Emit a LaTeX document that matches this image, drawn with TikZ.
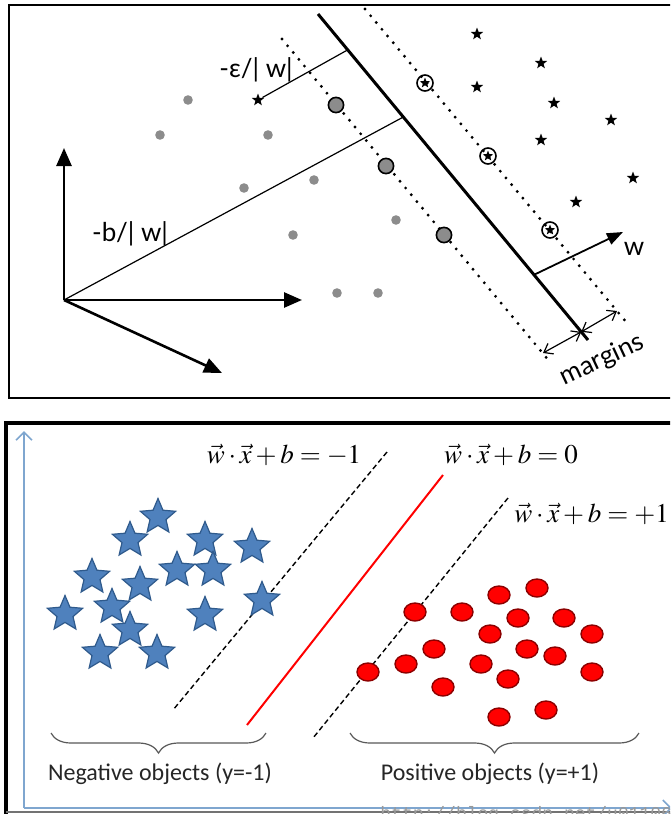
\documentclass[tikz,border=0pt]{standalone}
\usepackage{mathptmx}
\usepackage{fontspec}
\newfontfamily\gillfont{Lato}
\newfontfamily\califont{Carlito}
\newfontfamily\urlfont{Liberation Mono}
\usepackage{xcolor}
\usepackage{tikz}
\usetikzlibrary{shapes.geometric,arrows.meta,positioning,calc,decorations.pathreplacing}

\definecolor{starblue}{HTML}{4F81BD}
\definecolor{starline}{HTML}{2F5A8C}
\definecolor{axisblue}{HTML}{7FA6CF}

\tikzset{
    graydot/.style={circle, fill=black!45, inner sep=0pt, minimum size=4.8pt},
    svdot/.style={circle, draw=black, line width=0.8pt, fill=black!45, inner sep=0pt, minimum size=7.6pt},
    blackstar/.style={star, star points=5, star point ratio=2.4, fill=black, inner sep=0pt, minimum size=6.5pt},
    svstar/.style={circle, draw=black, line width=0.8pt, inner sep=0pt, minimum size=8pt,
        path picture={\node[blackstar, minimum size=5.5pt] at (path picture bounding box.center) {};}},
    bigarrow/.style={line width=1.3pt, -{Triangle[length=9pt,width=7.5pt]}},
    thinline/.style={line width=0.6pt},
    dotline/.style={line width=1.6pt, dash pattern=on 0pt off 4.4pt, line cap=round},
    topfont/.style={font=\gillfont\fontsize{13}{15}\selectfont},
    negstar/.style={star, star points=5, star point ratio=2.2, fill=starblue, draw=starline, line width=0.6pt, inner sep=0pt, minimum size=18.5pt},
    posdot/.style={ellipse, fill=red, draw=red!55!black, line width=0.7pt, inner sep=0pt, minimum width=11pt, minimum height=9pt},
    eqn/.style={font=\fontsize{13.5}{15}\selectfont, inner sep=0pt},
    marginline/.style={dash pattern=on 2.6pt off 1.6pt, line width=0.7pt},
    objbrace/.style={decorate, decoration={brace, amplitude=10pt, mirror}, draw=black!65, line width=0.6pt},
    objlabel/.style={font=\califont\fontsize{12}{14}\selectfont, text=black!85}
}

\begin{document}
\begin{tikzpicture}[x=0.5pt, y=-0.5pt]
    \useasboundingbox (0,0) rectangle (670,814);
    \clip (0,0) rectangle (670,814);
    \fill[white] (0,0) rectangle (670,814);

    % ---------------- upper picture ----------------
    \draw[line width=1pt] (690,5) -- (9,5) -- (9,398) -- (690,398);

    % coordinate axes
    \coordinate (O) at (64,300);
    \coordinate (ax1) at (64,148);
    \coordinate (ax2) at (302,300);
    \coordinate (ax3) at (222,373);
    \draw[bigarrow] (O) -- (ax1);
    \draw[bigarrow] (O) -- (ax2);
    \draw[bigarrow] (O) -- (ax3);

    % hyperplane and the two margin lines
    \coordinate (H1) at (318,14);
    \coordinate (H2) at (588,340);
    \coordinate (L1) at (282,39);
    \coordinate (L2) at (550,362);
    \coordinate (R1) at (365,9);
    \coordinate (R2) at (627,323);
    \draw[line width=1.5pt] (H1) -- (H2);
    \draw[dotline] (L1) -- (L2);
    \draw[dotline] (R1) -- (R2);

    % class -1 : gray dots
    \foreach \x/\y [count=\i] in {188/100, 160/135, 268/135, 244/188, 314/180, 293/235, 396/220, 337/293, 378/293}
        \node[graydot] (g\i) at (\x,\y) {};
    \foreach \x/\y [count=\i] in {336/105, 386/166, 444/235}
        \node[svdot] (sg\i) at (\x,\y) {};

    % class +1 : black stars
    \foreach \x/\y [count=\i] in {477/34, 541/63, 477/87, 554/103, 611/120, 541/140, 633/178, 576/202}
        \node[blackstar] (k\i) at (\x,\y) {};
    \foreach \x/\y [count=\i] in {425/83, 488/156, 550/230}
        \node[svstar] (sk\i) at (\x,\y) {};

    % -b/|w|
    \coordinate (B) at ($(H1)!0.316!(H2)$);
    \draw[thinline] (O) -- (B);
    \node[topfont] (blab) at (130,234) {-b/| w|};

    % -eps/|w|
    \node[blackstar] (estar) at (258,100) {};
    \coordinate (E) at ($(H1)!0.11!(H2)$);
    \draw[thinline] (estar) -- (E);
    \node[topfont] (elab) at (256,70) {-ε/| w|};

    % normal vector w
    \coordinate (W0) at ($(H1)!0.80!(H2)$);
    \coordinate (W1) at (623,232);
    \draw[line width=0.9pt, -{Triangle[length=8pt,width=6pt]}] (W0) -- (W1);
    \node[topfont] (wlab) at (634,249) {w};

    % margins
    \coordinate (M) at ($(H1)!0.975!(H2)$);
    \coordinate (ML) at (543,353);
    \coordinate (MR) at (617,311);
    \draw[thinline, {Straight Barb[length=4pt,width=6pt]}-{Straight Barb[length=4pt,width=6pt]}] (M) -- (ML);
    \draw[thinline, {Straight Barb[length=4pt,width=6pt]}-{Straight Barb[length=4pt,width=6pt]}] (M) -- (MR);
    \node[topfont, rotate=25] (mlab) at (602,360) {margins};

    % ---------------- lower picture ----------------
    \draw[line width=1.6pt] (690,423) -- (6,423) -- (6,816);
    \draw[black!55, line width=0.8pt] (6,812) -- (690,812);

    % axes
    \coordinate (A0) at (24,808);
    \coordinate (AY) at (24,431);
    \coordinate (AX) at (672,808);
    \draw[axisblue, line width=0.8pt, -{Straight Barb[length=4pt,width=8pt]}] (A0) -- (AY);
    \draw[axisblue, line width=0.8pt, -{Straight Barb[length=4pt,width=8pt]}] (A0) -- (AX);

    % watermark
    \node[anchor=north west, inner sep=0pt, font=\urlfont\fontsize{9}{9}\selectfont, text=black!40] (url) at (380,806) {http://blog.csdn.net/u011067};

    % separating lines
    \coordinate (N1) at (387,452);
    \coordinate (N2) at (173,710);
    \coordinate (Z1) at (443,475);
    \coordinate (Z2) at (247,725);
    \coordinate (P1) at (508,498);
    \coordinate (P2) at (313,738);
    \draw[marginline] (N1) -- (N2);
    \draw[red, line width=1pt] (Z1) -- (Z2);
    \draw[marginline] (P1) -- (P2);

    \node[eqn] (eqneg) at (284,455) {$\vec{w}\cdot\vec{x}+b=-1$};
    \node[eqn] (eqzero) at (511,455) {$\vec{w}\cdot\vec{x}+b=0$};
    \node[eqn, anchor=west] (eqpos) at (514,514) {$\vec{w}\cdot\vec{x}+b=+1$};

    % negative objects
    \foreach \x/\y [count=\i] in {158/517, 130/540, 205/540, 252/547, 92/577, 177/570, 213/570, 140/585,
                                  65/614, 112/607, 205/615, 262/600, 130/630, 100/653, 157/653}
        \node[negstar] (n\i) at (\x,\y) {};

    % positive objects
    \foreach \x/\y [count=\i] in {537/588, 499/595, 415/612, 462/612, 518/618, 564/618, 490/634, 592/634,
                                  434/649, 527/649, 555/656, 368/672, 406/664, 481/664, 508/679, 592/672,
                                  443/687, 499/717, 546/710}
        \node[posdot] (p\i) at (\x,\y) {};

    % braces and labels
    \coordinate (bn1) at (51,733);
    \coordinate (bn2) at (266,733);
    \coordinate (bp1) at (350,733);
    \coordinate (bp2) at (639,733);
    \draw[objbrace] (bn1) -- (bn2);
    \draw[objbrace] (bp1) -- (bp2);
    \node[objlabel] (neglab) at (160,774) {Negative objects (y=-1)};
    \node[objlabel] (poslab) at (490,774) {Positive objects (y=+1)};
\end{tikzpicture}
\end{document}
